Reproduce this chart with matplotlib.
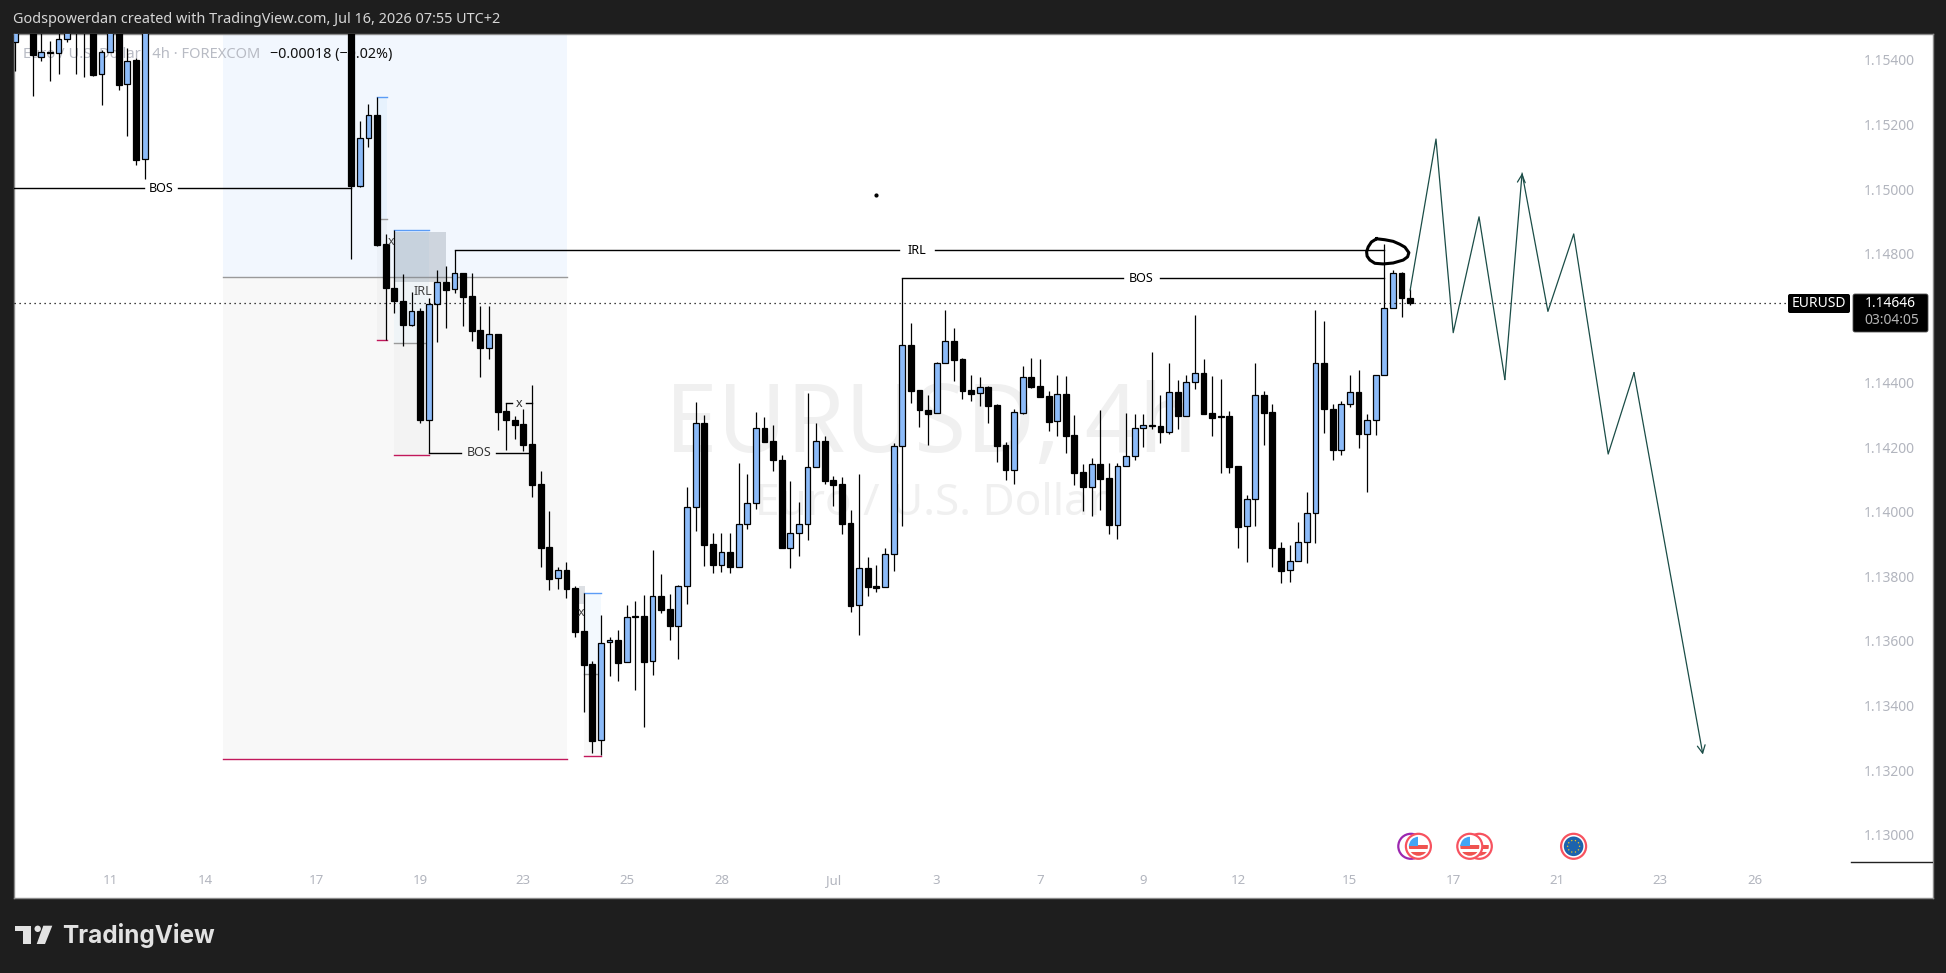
import matplotlib
matplotlib.use('Agg')
import matplotlib.pyplot as plt
from matplotlib.patches import Circle, Polygon, Rectangle, FancyBboxPatch
import numpy as np

plt.rcParams['font.family'] = ['Noto Sans', 'DejaVu Sans']

# candles, bar 0 is the one that makes the swing high after Jul 2
bars = [-103] + list(range(-101, -87)) + list(range(-64, 60))

opens = [1.15457,
         1.15520, 1.15410, 1.15426, 1.15422, 1.15464, 1.15530, 1.15530, 1.15520, 1.15355, 1.15425, 1.15520, 1.15324, 1.15400, 1.15092,
         1.15520, 1.15010, 1.15157, 1.15231, 1.14829, 1.14695, 1.14652, 1.14579, 1.14621, 1.14285, 1.14643, 1.14711, 1.14689, 1.14739,
         1.14668, 1.14562, 1.14508, 1.14551, 1.14311, 1.14286, 1.14271, 1.14209, 1.14085, 1.13890, 1.13794, 1.13819, 1.13763, 1.13630,
         1.13528, 1.13292, 1.13596, 1.13602, 1.13534, 1.13676, 1.13676, 1.13537, 1.13738, 1.13698, 1.13647, 1.13769, 1.14014, 1.14274,
         1.13899, 1.13836, 1.13874, 1.13828, 1.13961, 1.14026, 1.14259, 1.14218, 1.14162, 1.13889, 1.13935, 1.13961, 1.14140, 1.14218,
         1.14098, 1.14086, 1.13964, 1.13710, 1.13825, 1.13770, 1.13766, 1.13868,
         1.14203, 1.14516, 1.14376, 1.14317, 1.14305, 1.14460, 1.14528, 1.14472, 1.14376, 1.14367, 1.14386, 1.14330, 1.14206, 1.14130,
         1.14307, 1.14417, 1.14389, 1.14358, 1.14280, 1.14364, 1.14237, 1.14122, 1.14078, 1.14147, 1.14104, 1.13960, 1.14141, 1.14172,
         1.14259, 1.14268, 1.14266, 1.14248, 1.14370, 1.14298, 1.14401, 1.14429, 1.14305, 1.14296, 1.14296, 1.14141, 1.13955, 1.14039,
         1.14361, 1.14308, 1.13887, 1.13819, 1.13847, 1.13905, 1.13995, 1.14460, 1.14320, 1.14192, 1.14333, 1.14370, 1.14242, 1.14283,
         1.14423, 1.14633, 1.14739, 1.14664]

highs = [1.15520,
         1.15540, 1.15530, 1.15458, 1.15520, 1.15530, 1.15540, 1.15540, 1.15530, 1.15431, 1.15530, 1.15530, 1.15436, 1.15405, 1.15530,
         1.15530, 1.15211, 1.15265, 1.15284, 1.14860, 1.14873, 1.14736, 1.14680, 1.14633, 1.14661, 1.14749, 1.14761, 1.14811, 1.14740,
         1.14739, 1.14637, 1.14637, 1.14551, 1.14336, 1.14297, 1.14320, 1.14393, 1.14126, 1.14002, 1.13830, 1.13843, 1.13770, 1.13749,
         1.13538, 1.13680, 1.13611, 1.13634, 1.13711, 1.13723, 1.13742, 1.13881, 1.13807, 1.13745, 1.13773, 1.14078, 1.14339, 1.14300,
         1.13933, 1.13933, 1.13933, 1.14150, 1.14117, 1.14308, 1.14293, 1.14268, 1.14176, 1.14095, 1.14030, 1.14367, 1.14276, 1.14235,
         1.14111, 1.14107, 1.14005, 1.14117, 1.13859, 1.13835, 1.13888, 1.14212,
         1.14723, 1.14584, 1.14377, 1.14362, 1.14465, 1.14625, 1.14571, 1.14478, 1.14424, 1.14417, 1.14390, 1.14334, 1.14215, 1.14320,
         1.14452, 1.14478, 1.14472, 1.14374, 1.14424, 1.14421, 1.14300, 1.14148, 1.14166, 1.14317, 1.14150, 1.14150, 1.14305, 1.14302,
         1.14302, 1.14494, 1.14361, 1.14460, 1.14408, 1.14424, 1.14610, 1.14475, 1.14421, 1.14413, 1.14311, 1.14141, 1.14052, 1.14460,
         1.14373, 1.14333, 1.13908, 1.13897, 1.13968, 1.14060, 1.14625, 1.14591, 1.14334, 1.14342, 1.14424, 1.14439, 1.14302, 1.14423,
         1.14829, 1.14749, 1.14742, 1.14689]

lows = [1.15366,
        1.15289, 1.15397, 1.15335, 1.15356, 1.15455, 1.15356, 1.15348, 1.15350, 1.15260, 1.15425, 1.15307, 1.15165, 1.15074, 1.15032,
        1.14784, 1.15007, 1.15131, 1.14823, 1.14532, 1.14617, 1.14514, 1.14575, 1.14276, 1.14183, 1.14527, 1.14569, 1.14679, 1.14575,
        1.14530, 1.14418, 1.14474, 1.14253, 1.14191, 1.14225, 1.14189, 1.14047, 1.13830, 1.13758, 1.13762, 1.13734, 1.13613, 1.13381,
        1.13254, 1.13246, 1.13492, 1.13477, 1.13534, 1.13448, 1.13334, 1.13494, 1.13687, 1.13603, 1.13544, 1.13714, 1.13941, 1.13832,
        1.13809, 1.13814, 1.13811, 1.13828, 1.13947, 1.14009, 1.14217, 1.14127, 1.13889, 1.13827, 1.13863, 1.13912, 1.14140, 1.14086,
        1.14018, 1.13931, 1.13690, 1.13618, 1.13739, 1.13752, 1.13766, 1.13817,
        1.13957, 1.14338, 1.14263, 1.14208, 1.14305, 1.14460, 1.14405, 1.14349, 1.14344, 1.14328, 1.14276, 1.14155, 1.14098, 1.14086,
        1.14303, 1.14384, 1.14356, 1.14251, 1.14235, 1.14183, 1.14083, 1.14003, 1.13988, 1.14005, 1.13932, 1.13915, 1.14141, 1.14160,
        1.14202, 1.14257, 1.14214, 1.14241, 1.14257, 1.14298, 1.14381, 1.14304, 1.14236, 1.14119, 1.14119, 1.13887, 1.13845, 1.13957,
        1.14208, 1.13830, 1.13778, 1.13783, 1.13847, 1.13842, 1.13902, 1.14245, 1.14162, 1.14177, 1.14325, 1.14198, 1.14062, 1.14239,
        1.14423, 1.14633, 1.14604, 1.14640]

closes = [1.15520,
          1.15415, 1.15425, 1.15423, 1.15464, 1.15510, 1.15500, 1.15500, 1.15353, 1.15425, 1.15520, 1.15322, 1.15397, 1.15091, 1.15520,
          1.15010, 1.15157, 1.15231, 1.14826, 1.14694, 1.14652, 1.14579, 1.14621, 1.14285, 1.14643, 1.14711, 1.14688, 1.14739, 1.14666,
          1.14561, 1.14508, 1.14550, 1.14310, 1.14285, 1.14270, 1.14208, 1.14084, 1.13889, 1.13793, 1.13819, 1.13762, 1.13628, 1.13526,
          1.13291, 1.13594, 1.13602, 1.13532, 1.13673, 1.13673, 1.13535, 1.13738, 1.13697, 1.13647, 1.13769, 1.14014, 1.14274, 1.13898,
          1.13836, 1.13874, 1.13828, 1.13961, 1.14026, 1.14259, 1.14217, 1.14161, 1.13889, 1.13935, 1.13961, 1.14140, 1.14218, 1.14096,
          1.14084, 1.13963, 1.13709, 1.13825, 1.13768, 1.13765, 1.13868, 1.14203,
          1.14516, 1.14375, 1.14316, 1.14304, 1.14460, 1.14528, 1.14471, 1.14375, 1.14366, 1.14386, 1.14329, 1.14205, 1.14130, 1.14308,
          1.14417, 1.14387, 1.14356, 1.14279, 1.14364, 1.14236, 1.14121, 1.14078, 1.14147, 1.14102, 1.13960, 1.14141, 1.14172, 1.14259,
          1.14268, 1.14266, 1.14247, 1.14370, 1.14298, 1.14401, 1.14429, 1.14304, 1.14291, 1.14293, 1.14140, 1.13954, 1.14039, 1.14361,
          1.14307, 1.13887, 1.13817, 1.13847, 1.13905, 1.13995, 1.14460, 1.14319, 1.14192, 1.14333, 1.14370, 1.14242, 1.14283, 1.14423,
          1.14633, 1.14739, 1.14663, 1.14646]

last_price = 1.14646

# projected path drawn by the author
path_bars = [59, 62, 64, 67, 70, 72, 75, 78, 82, 85, 93]
path_prices = [1.14687, 1.15155, 1.14555, 1.14914, 1.14410, 1.15049, 1.14621, 1.14861, 1.14179, 1.14431, 1.13248]

# hand drawn circle round the IRL high
ring_bars = [55.1, 56.06, 57.03, 57.8, 58.39, 58.85, 58.7, 58.19, 57.03, 55.87, 54.9, 54.32, 54.0, 53.94, 54.13, 54.5, 55.1]
ring_prices = [1.14846, 1.14843, 1.14838, 1.14829, 1.14820, 1.14803, 1.14790, 1.14780, 1.14771, 1.14768, 1.14770, 1.14780,
               1.14792, 1.14806, 1.14821, 1.14836, 1.14846]

y_ticks = [1.154, 1.152, 1.150, 1.148, 1.144, 1.142, 1.140, 1.138, 1.136, 1.134, 1.132, 1.130]
y_labels = ['%.5f' % t for t in y_ticks]
x_ticks = [-92, -81, -68, -56, -44, -32, -21, -8, 4, 16, 28, 39, 52, 64, 76, 88, 99]
x_labels = ['11', '14', '17', '19', '23', '25', '28', 'Jul', '3', '7', '9', '12', '15', '17', '21', '23', '26']

W, H = 1946, 973
BG = '#1e1e1e'
BLUE = '#8cbbf9'
TICK = '#b2b5be'
LEFT, RIGHT, TOP, BOTTOM = 13.5, 1933, 33.5, 897.5

fig = plt.figure(figsize=(W / 100, H / 100), dpi=100, facecolor=BG)
ax = fig.add_axes([LEFT / W, 1 - BOTTOM / H, (RIGHT - LEFT) / W, (BOTTOM - TOP) / H], facecolor='white')
ax.set_xlim(-103.23, 119.73)
ax.set_ylim(1.12805, 1.15482)
for s in ax.spines.values():
    s.set_color('#8a8a8a')
    s.set_linewidth(1)
ax.yaxis.tick_right()
ax.set_yticks(y_ticks, y_labels, color=TICK, fontsize=10)
ax.set_xticks(x_ticks, x_labels, color=TICK, fontsize=9.5)
ax.tick_params(axis='y', length=0, pad=-50)
ax.tick_params(axis='x', length=0, pad=-17)
ax.get_xticklabels()[7].set_fontweight('bold')

# watermark
ax.text(3.3, 1.14185, 'EURUSD, 4h', color='#f0f0f0', fontsize=68, ha='center', va='baseline', zorder=0)
ax.text(3.3, 1.13990, 'Euro / U.S. Dollar', color='#f0f0f0', fontsize=31.8, ha='center', va='baseline', zorder=0)


def zone(k0, k1, p0, p1, color, alpha=1.0, z=1):
    ax.fill_between([k0, k1], p0, p1, color=color, alpha=alpha, lw=0, zorder=z)


def position(k0, k1, top, mid, bot, alpha):
    zone(k0, k1, mid, top, '#2196f3', alpha)
    zone(k0, k1, bot, mid, '#000000', alpha * 0.45)
    ax.plot([k0, k1], [top, top], color='#5b9cf6', lw=1, zorder=2)
    ax.plot([k0, k1], [mid, mid], color='#9a9a9a', lw=1, zorder=2)
    ax.plot([k0, k1], [bot, bot], color='#c2185b', lw=1, zorder=2)


# big short position box runs off the top of the pane
zone(-78.85, -38.9, 1.14729, 1.156, '#f2f7fe')
zone(-78.85, -38.9, 1.13233, 1.14729, '#f8f8f8')
ax.plot([-78.95, -38.9], [1.14729, 1.14729], color='#9a9a9a', lw=1, zorder=2)
ax.plot([-78.85, -38.9], [1.13233, 1.13233], color='#c2185b', lw=1, zorder=2)
position(-61, -59.9, 1.15284, 1.14907, 1.14532, 0.05)
position(-59, -55, 1.14873, 1.14522, 1.14176, 0.04)
position(-37, -35, 1.13750, 1.13496, 1.13243, 0.05)
zone(-59, -53, 1.14712, 1.14867, '#7b8794', 0.3, 2)
zone(-37.55, -36.85, 1.13714, 1.13770, '#7b8794', 0.25, 2)

# legend line sits under the candles
ax.text(-102.1, 1.15418, 'Euro / U.S. Dollar \u00b7 4h \u00b7 FOREXCOM', color='#b8bbc4', fontsize=10.6, va='center', zorder=2)
ax.text(-73.4, 1.15418, '\u22120.00018 (\u22120.02%)', color='#111111', fontsize=10.3, va='center', zorder=2)

# candles
o = np.array(opens)
c = np.array(closes)
up = c >= o
ax.vlines(bars, lows, highs, color='black', lw=0.9, zorder=3)
ax.bar(bars, np.abs(c - o), bottom=np.minimum(o, c), width=0.68, color=[BLUE if u else 'black' for u in up],
       edgecolor='black', linewidth=0.9, zorder=4)


def marked_line(k0, k1, price, text, k_text, gap, color='black'):
    ax.plot([k0, k_text - gap], [price, price], color='black', lw=1, zorder=5)
    ax.plot([k_text + gap, k1], [price, price], color='black', lw=1, zorder=5)
    ax.text(k_text, price, text, color=color, fontsize=9, ha='center', va='center', zorder=5)


marked_line(-104, -64, 1.15003, 'BOS', -86.1, 2.0)
marked_line(-55, -43, 1.14183, 'BOS', -49.2, 2.0, '#333333')
marked_line(-46, -43, 1.14336, 'x', -44.5, 0.85, '#333333')
marked_line(-52, 56, 1.14810, 'IRL', 1.7, 2.1)
marked_line(0, 56, 1.14723, 'BOS', 27.8, 2.1)
ax.text(-55.7, 1.14682, 'IRL', color='#444444', fontsize=9, ha='center', va='center', zorder=5)
ax.text(-59.4, 1.14836, 'x', color='#444444', fontsize=9, ha='center', va='center', zorder=5)
ax.text(-37.35, 1.13688, 'x', color='#444444', fontsize=9, ha='center', va='center', zorder=5)
ax.scatter([-3.05], [1.14981], s=4, color='black', zorder=5)

# last price line and the small stub on the scale
ax.plot([-103.23, 102.75], [last_price, last_price], color='black', lw=0.9, ls=(0, (1, 3)), zorder=5)
ax.plot([110.2, 119.73], [1.12914, 1.12914], color='#222222', lw=1, zorder=5)

ax.plot(ring_bars, ring_prices, color='black', lw=2.2, solid_joinstyle='round', zorder=6)

# projection, arrow heads on the 72 and 93 legs
PATH = '#1b4d47'
ax.plot(path_bars[:5], path_prices[:5], color=PATH, lw=0.9, zorder=6)
ax.plot(path_bars[5:10], path_prices[5:10], color=PATH, lw=0.9, zorder=6)
for i in (4, 9):
    ax.annotate('', xy=(path_bars[i + 1], path_prices[i + 1]), xytext=(path_bars[i], path_prices[i]),
                arrowprops=dict(arrowstyle='->', color=PATH, lw=0.9, mutation_scale=14, shrinkA=0, shrinkB=0), zorder=6)

# overlay in pixel coordinates for the chrome around the chart
ov = fig.add_axes([0, 0, 1, 1], facecolor='none')
ov.set_xlim(0, W)
ov.set_ylim(H, 0)
ov.axis('off')

ov.text(13, 19.5, 'Godspowerdan created with TradingView.com, Jul 16, 2026 07:55 UTC+2', color='#d6d6d6', fontsize=10.4, va='center')

ov.add_patch(FancyBboxPatch((1788, 294), 62, 19, boxstyle='round,pad=0,rounding_size=2', fc='black', ec='none'))
ov.add_patch(FancyBboxPatch((1853, 294), 75, 38, boxstyle='round,pad=0,rounding_size=2', fc='black', ec='#555555', lw=0.6))
ov.text(1819, 303.3, 'EURUSD', color='white', fontsize=10, ha='center', va='center')
ov.text(1890, 303.3, '1.14646', color='white', fontsize=10, ha='center', va='center', fontweight='medium')
ov.text(1892, 321, '03:04:05', color='#b4b4b4', fontsize=10, ha='center', va='center')


def us_icon(x, y):
    ov.add_patch(Circle((x, y), 12.5, fc='white', ec='#f7525f', lw=1.6))
    clip = Circle((x, y), 9.5, transform=ov.transData)
    for stripe in [Rectangle((x - 10, y - 1), 20, 4, fc='#ef5350', ec='none'),
                   Rectangle((x - 10, y + 6), 20, 4, fc='#ef5350', ec='none'),
                   Rectangle((x - 10, y - 10), 10, 10, fc='#42a5f5', ec='none')]:
        ov.add_patch(stripe)
        stripe.set_clip_path(clip)


ov.add_patch(Circle((1410.8, 846.3), 12.5, fc='white', ec='#9c27b0', lw=1.6))
us_icon(1418.4, 846.3)
us_icon(1479.3, 846.3)
us_icon(1469.8, 846.3)
ov.add_patch(Circle((1573.6, 846.3), 12.5, fc='white', ec='#f7525f', lw=1.6))
ov.add_patch(Circle((1573.6, 846.3), 9.8, fc='#1c63ad', ec='none'))
for a in np.linspace(0, 2 * np.pi, 10, endpoint=False):
    ov.add_patch(Circle((1573.6 + 6 * np.cos(a), 846.3 + 6 * np.sin(a)), 0.7, fc='#f5c518', ec='none'))

# logo
LOGO = '#e2e2e2'
ov.add_patch(Polygon([(15.3, 925.7), (30.7, 925.7), (30.7, 944), (22.7, 944), (22.7, 930.7), (15.3, 930.7)], fc=LOGO, ec='none'))
ov.add_patch(Circle((37.7, 928.8), 3.2, fc=LOGO, ec='none'))
ov.add_patch(Polygon([(43.3, 925.7), (52.3, 925.7), (45, 944), (36.7, 944)], fc=LOGO, ec='none'))
ov.text(62, 935.5, 'TradingView', color=LOGO, fontsize=17.5, family='Inter', fontweight='bold', va='center')

fig.savefig('out.png', dpi=100, facecolor=BG)
